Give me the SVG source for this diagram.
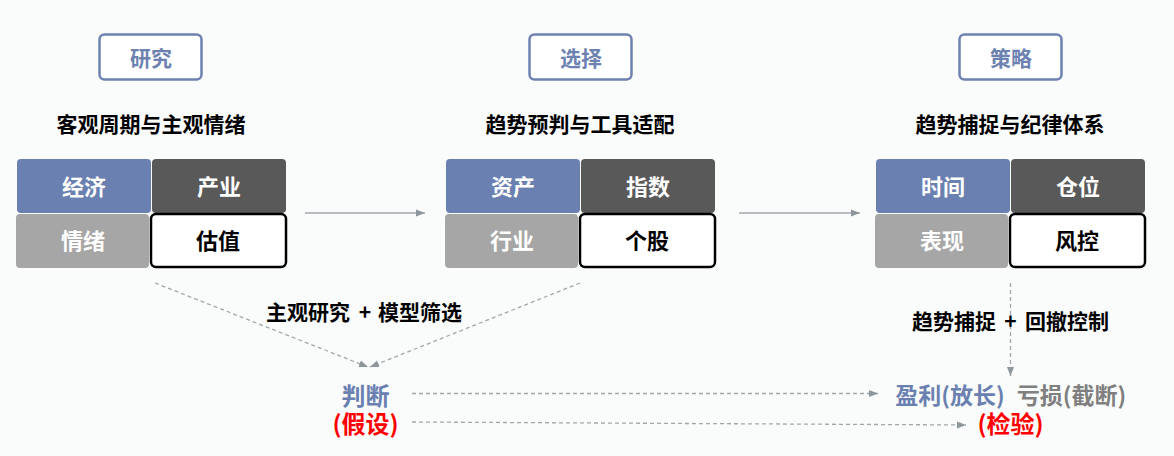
<svg xmlns="http://www.w3.org/2000/svg" width="1174" height="456" viewBox="0 0 1174 456">
<defs>
<style>
text{font-family:"Noto Sans CJK SC","Liberation Sans",sans-serif;font-weight:bold;text-anchor:middle}
.hdr{fill:#fff;stroke:#6d82b0;stroke-width:2.5}
.hdrt{fill:#6d82b0;font-size:21px}
.sub{fill:#000;font-size:21px}
.blue{fill:#6a80b0}
.dark{fill:#595959}
.light{fill:#a6a6a6}
.wbox{fill:#fff;stroke:#000;stroke-width:2.5}
.wt{fill:#fff;font-size:22px}
.bt{fill:#000;font-size:22px}
.lbl{fill:#000;font-size:21px}
.e{text-anchor:end}
.s{text-anchor:start}
.solid{stroke:#a0a8ad;stroke-width:1.5;fill:none}
.dash{stroke:#a0a8ad;stroke-width:1.3;fill:none;stroke-dasharray:4 3}
</style>
<marker id="ah" markerWidth="9" markerHeight="8" refX="9" refY="4" orient="auto" markerUnits="userSpaceOnUse">
<path d="M0,0.5 L9,4 L0,7.5 Z" fill="#8c969b"/>
</marker>
</defs>
<rect width="1174" height="456" fill="#fafbfb"/>

<g id="research">
<rect class="hdr" x="99.5" y="34.5" width="102" height="45" rx="5"/>
<text class="hdrt" x="151" y="65.5">研究</text>
<text class="sub" x="151" y="131.5">客观周期与主观情绪</text>
<rect class="blue" x="17" y="159" width="134" height="54" rx="4"/>
<text class="wt" x="84" y="194.5">经济</text>
<rect class="dark" x="152" y="159" width="134" height="54" rx="4"/>
<text class="wt" x="219" y="194.5">产业</text>
<rect class="light" x="16" y="214" width="133" height="54" rx="4"/>
<text class="wt" x="83" y="248.5">情绪</text>
<rect class="wbox" x="151" y="214" width="135" height="53" rx="5"/>
<text class="bt" x="218" y="248.5">估值</text>
</g>

<g id="select">
<rect class="hdr" x="529.5" y="34.5" width="102" height="45" rx="5"/>
<text class="hdrt" x="581" y="65.5">选择</text>
<text class="sub" x="580" y="131.5">趋势预判与工具适配</text>
<rect class="blue" x="446" y="159" width="134" height="54" rx="4"/>
<text class="wt" x="513" y="194.5">资产</text>
<rect class="dark" x="581" y="159" width="134" height="54" rx="4"/>
<text class="wt" x="648" y="194.5">指数</text>
<rect class="light" x="445" y="214" width="133" height="54" rx="4"/>
<text class="wt" x="512" y="248.5">行业</text>
<rect class="wbox" x="580" y="214" width="135" height="53" rx="5"/>
<text class="bt" x="647" y="248.5">个股</text>
</g>

<g id="strategy">
<rect class="hdr" x="959.5" y="34.5" width="102" height="45" rx="5"/>
<text class="hdrt" x="1011" y="65.5">策略</text>
<text class="sub" x="1010" y="131.5">趋势捕捉与纪律体系</text>
<rect class="blue" x="876" y="159" width="134" height="54" rx="4"/>
<text class="wt" x="943" y="194.5">时间</text>
<rect class="dark" x="1011" y="159" width="134" height="54" rx="4"/>
<text class="wt" x="1078" y="194.5">仓位</text>
<rect class="light" x="875" y="214" width="133" height="54" rx="4"/>
<text class="wt" x="942" y="248.5">表现</text>
<rect class="wbox" x="1010" y="214" width="135" height="53" rx="5"/>
<text class="bt" x="1077" y="248.5">风控</text>
</g>

<g id="judge">
<text x="365.5" y="404.5" font-size="24" fill="#6a80b0">判断</text>
<text x="365.5" y="433" font-size="24" fill="#ff0000">(假设)</text>
</g>

<g id="verify">
<text x="950" y="404" font-size="23" fill="#6a80b0">盈利(放长)</text>
<text x="1071.5" y="404" font-size="23" fill="#7f7f7f">亏损(截断)</text>
<text x="1010.5" y="433" font-size="24" fill="#ff0000">(检验)</text>
</g>

<g id="connectors">
<line class="solid" x1="305" y1="213" x2="425" y2="213" marker-end="url(#ah)"/>
<line class="solid" x1="739" y1="213" x2="860" y2="213" marker-end="url(#ah)"/>
<line class="dash" x1="155" y1="283" x2="368" y2="367" marker-end="url(#ah)"/>
<line class="dash" x1="580" y1="283" x2="370" y2="367" marker-end="url(#ah)"/>
<line class="dash" x1="1010.5" y1="283" x2="1010.5" y2="376" marker-end="url(#ah)"/>
<line class="dash" x1="412" y1="393.5" x2="878" y2="393.5" marker-end="url(#ah)"/>
<line class="dash" x1="412" y1="422" x2="966" y2="425" marker-end="url(#ah)"/>
<text class="lbl e" x="350" y="320">主观研究</text>
<text class="lbl" x="365" y="320">+</text>
<text class="lbl s" x="378" y="320">模型筛选</text>
<text class="lbl e" x="996" y="329">趋势捕捉</text>
<text class="lbl" x="1010.5" y="329">+</text>
<text class="lbl s" x="1025" y="329">回撤控制</text>
</g>
</svg>
